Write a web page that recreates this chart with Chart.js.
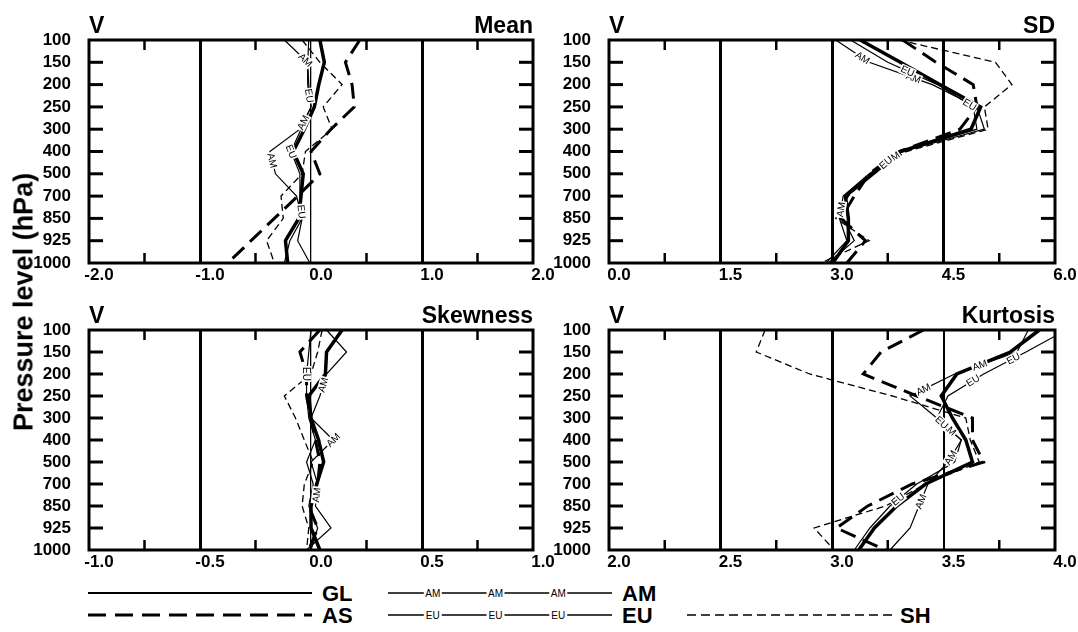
<!DOCTYPE html>
<html>
<head>
<meta charset="utf-8">
<script src="https://cdn.jsdelivr.net/npm/chart.js@4.4.0/dist/chart.umd.min.js"></script>
<style>
  body { margin: 0; background: #fff; width: 1078px; height: 632px; position: relative; overflow: hidden;
         font-family: "Liberation Sans", Arial, sans-serif; }
  canvas { position: absolute; }
  #ylab { position: absolute; left: 24px; top: 302px; transform: translate(-50%, -50%) rotate(-90deg);
          font-weight: bold; font-size: 27px; white-space: nowrap; }
  #legend { position: absolute; left: 0; top: 580px; }
</style>
</head>
<body>
<canvas id="cMean" width="560" height="300" style="left:0;top:0"></canvas>
<canvas id="cSD" width="538" height="300" style="left:540px;top:0"></canvas>
<canvas id="cSkew" width="560" height="290" style="left:0;top:290px"></canvas>
<canvas id="cKurt" width="538" height="290" style="left:540px;top:290px"></canvas>
<div id="ylab">Pressure level (hPa)</div>
<svg id="legend" width="1078" height="52"></svg>

<script>
// pressure levels (hPa), drawn top to bottom
const levels = ['100', '150', '200', '250', '300', '400', '500', '700', '850', '925', '1000'];

// Mean
const meanGL = [0.08, 0.12, 0.07, 0.03, -0.06, -0.16, -0.07, -0.09, -0.11, -0.23, -0.21];
const meanAM = [-0.24, -0.03, -0.02, 0.0, -0.10, -0.37, -0.32, -0.13, -0.08, -0.12, -0.01];
const meanAS = [0.44, 0.31, 0.37, 0.39, 0.18, 0.0, 0.08, -0.12, -0.33, -0.54, -0.75];
const meanEU = [-0.02, -0.03, -0.03, 0.0, -0.09, -0.18, -0.10, -0.10, -0.08, -0.19, -0.24];
const meanSH = [-0.08, 0.08, 0.28, 0.11, 0.19, -0.05, -0.08, -0.27, -0.25, -0.40, -0.33];

// SD
const sdGL = [3.38, 3.92, 4.45, 5.00, 4.87, 3.92, 3.55, 3.18, 3.22, 3.22, 3.01];
const sdAM = [3.05, 3.50, 4.35, 4.95, 5.05, 3.95, 3.50, 3.15, 3.10, 3.20, 2.92];
const sdAS = [3.95, 4.40, 4.90, 4.95, 4.72, 3.90, 3.50, 3.30, 3.12, 3.45, 3.20];
const sdEU = [3.25, 3.75, 4.42, 4.90, 4.95, 3.90, 3.55, 3.20, 3.15, 3.30, 2.95];
const sdSH = [3.90, 5.20, 5.42, 5.05, 5.10, 4.00, 3.52, 3.22, 3.05, 3.50, 2.85];

// Skewness
const skGL = [0.14, 0.07, 0.065, -0.01, 0.0, 0.034, 0.057, 0.026, 0.0, 0.0, 0.04];
const skAM = [0.07, 0.16, 0.07, 0.04, 0.0, 0.10, 0.0, 0.03, 0.02, 0.09, -0.02];
const skAS = [0.04, -0.05, -0.02, -0.02, 0.0, 0.02, 0.04, 0.03, -0.01, 0.03, -0.01];
const skEU = [0.0, -0.01, -0.02, -0.02, -0.01, 0.02, -0.02, 0.01, -0.01, 0.03, 0.0];
const skSH = [0.05, 0.03, 0.0, -0.12, -0.07, -0.03, 0.01, -0.03, -0.04, -0.01, -0.02];

// Kurtosis
const kuGL = [3.93, 3.80, 3.56, 3.49, 3.54, 3.60, 3.63, 3.42, 3.29, 3.19, 3.12];
const kuAM = [3.88, 3.83, 3.55, 3.35, 3.47, 3.58, 3.52, 3.43, 3.39, 3.35, 3.26];
const kuAS = [3.41, 3.22, 3.14, 3.38, 3.63, 3.63, 3.68, 3.36, 3.16, 3.02, 3.24];
const kuEU = [4.05, 3.87, 3.68, 3.52, 3.47, 3.58, 3.55, 3.38, 3.26, 3.17, 3.10];
const kuSH = [2.70, 2.66, 2.90, 3.27, 3.60, 3.62, 3.66, 3.42, 3.24, 2.92, 3.01];

const FONT = '"Liberation Sans", Arial, sans-serif';

// line look of each region
const lineStyle = {
    GL: { borderWidth: 3.5, borderDash: [] },
    AM: { borderWidth: 1.2, borderDash: [] },
    EU: { borderWidth: 1.2, borderDash: [] },
    AS: { borderWidth: 3, borderDash: [16, 8] },
    SH: { borderWidth: 1.3, borderDash: [7, 4] }
};

// frame, inward ticks and panel titles
const panelDeco = {
    id: 'panelDeco',
    afterDraw(chart, args, o) {
        const { ctx, chartArea: a, scales: { x, y } } = chart;
        const seg = (x1, y1, x2, y2) => { ctx.beginPath(); ctx.moveTo(x1, y1); ctx.lineTo(x2, y2); ctx.stroke(); };
        ctx.save();
        ctx.strokeStyle = '#000';
        ctx.lineWidth = 3;
        for (let i = 1; i < levels.length - 1; i++) {
            const py = y.getPixelForValue(i);
            seg(a.left, py, a.left + 14, py);
            seg(a.right - 14, py, a.right, py);
        }
        ctx.lineWidth = 2.5;
        o.minor.forEach(v => {
            const px = x.getPixelForValue(v);
            seg(px, a.top, px, a.top + 10);
            seg(px, a.bottom - 10, px, a.bottom);
        });
        ctx.lineWidth = 3;
        ctx.strokeRect(a.left, a.top, a.width, a.height);
        ctx.fillStyle = '#000';
        ctx.font = 'bold 23px ' + FONT;
        ctx.textBaseline = 'alphabetic';
        ctx.textAlign = 'left';
        ctx.fillText('V', a.left, a.top - 7);
        ctx.textAlign = 'right';
        ctx.fillText(o.title, a.right, a.top - 7);
        ctx.restore();
    }
};

// small "AM" / "EU" tags sitting on the thin lines
const lineTags = {
    id: 'lineTags',
    afterDatasetsDraw(chart) {
        const { ctx, chartArea: a } = chart;
        ctx.save();
        ctx.beginPath();
        ctx.rect(a.left, a.top, a.width, a.height);
        ctx.clip();
        chart.data.datasets.forEach((ds, di) => {
            if (!ds.tagAt) return;
            const pts = chart.getDatasetMeta(di).data;
            ds.tagAt.forEach(pos => {
                let s = Math.floor(pos), t = pos - s;
                if (s >= pts.length - 1) { s = pts.length - 2; t = 1; }
                const p0 = pts[s], p1 = pts[s + 1];
                const mx = p0.x + (p1.x - p0.x) * t, my = p0.y + (p1.y - p0.y) * t;
                let ang = Math.atan2(p1.y - p0.y, p1.x - p0.x);
                if (ang > Math.PI / 2) ang -= Math.PI;
                if (ang < -Math.PI / 2) ang += Math.PI;
                ctx.save();
                ctx.translate(mx, my);
                ctx.rotate(ang);
                ctx.font = '10px ' + FONT;
                const w = ctx.measureText(ds.label).width;
                ctx.fillStyle = '#fff';
                ctx.fillRect(-w / 2 - 1, -5, w + 2, 10);
                ctx.fillStyle = '#000';
                ctx.textAlign = 'center';
                ctx.textBaseline = 'middle';
                ctx.fillText(ds.label, 0, 0.5);
                ctx.restore();
            });
        });
        ctx.restore();
    }
};

function makePanel(canvasId, cfg) {
    const ctx = document.getElementById(canvasId).getContext('2d');
    const names = ['GL', 'AM', 'AS', 'EU', 'SH'];
    const datasets = names.map((n, i) => ({
        label: n,
        data: cfg.series[i],
        borderColor: '#000',
        borderWidth: lineStyle[n].borderWidth,
        borderDash: lineStyle[n].borderDash,
        pointRadius: 0,
        tension: 0,
        fill: false,
        tagAt: cfg.tags[n] || null
    }));
    const tickFont = { family: FONT, weight: 'bold', size: 17 };

    return new Chart(ctx, {
        type: 'line',
        data: { labels: levels, datasets },
        options: {
            responsive: false,
            animation: false,
            indexAxis: 'y',
            layout: { padding: { left: 0, top: 40, right: cfg.padRight, bottom: 0 } },
            plugins: {
                legend: { display: false },
                tooltip: { enabled: false },
                panelDeco: { title: cfg.title, minor: cfg.minor }
            },
            scales: {
                x: {
                    type: 'linear',
                    position: 'bottom',
                    min: cfg.min,
                    max: cfg.max,
                    afterFit: s => { s.height = cfg.xh; },
                    border: { display: false },
                    grid: {
                        drawTicks: false,
                        color: '#000',
                        lineWidth: c => {
                            if (!c.tick) return 0;
                            const w = cfg.gridW[Number(c.tick.value).toFixed(2)];
                            return w || 0;
                        }
                    },
                    ticks: {
                        stepSize: cfg.step,
                        autoSkip: false,
                        maxRotation: 0,
                        padding: 2,
                        labelOffset: 10,
                        color: '#000',
                        font: tickFont,
                        callback: v => Number(v).toFixed(1)
                    }
                },
                y: {
                    type: 'category',
                    position: 'left',
                    afterFit: s => { s.width = cfg.yw; },
                    border: { display: false },
                    grid: { display: false },
                    ticks: { padding: 10, autoSkip: false, color: '#000', font: tickFont }
                }
            }
        },
        plugins: [panelDeco, lineTags]
    });
}

makePanel('cMean', {
    title: 'Mean', min: -2, max: 2, step: 1, minor: [-1.5, -0.5, 0.5, 1.5],
    gridW: { '-1.00': 3, '0.00': 1.3, '1.00': 3 },
    series: [meanGL, meanAM, meanAS, meanEU, meanSH],
    tags: { AM: [0.9, 3.7, 5.4], EU: [2.5, 5.0, 7.7] },
    yw: 89, padRight: 27, xh: 37
});
makePanel('cSD', {
    title: 'SD', min: 0, max: 6, step: 1.5, minor: [0.75, 2.25, 3.75, 5.25],
    gridW: { '1.50': 3, '3.00': 3, '4.50': 3 },
    series: [sdGL, sdAM, sdAS, sdEU, sdSH],
    tags: { AM: [0.8, 1.7, 5.3, 7.6], EU: [1.4, 2.9, 5.5] },
    yw: 69, padRight: 23, xh: 37
});
makePanel('cSkew', {
    title: 'Skewness', min: -1, max: 1, step: 0.5, minor: [-0.75, -0.25, 0.25, 0.75],
    gridW: { '-0.50': 3, '0.00': 1.3, '0.50': 3 },
    series: [skGL, skAM, skAS, skEU, skSH],
    tags: { AM: [2.5, 5.0, 7.5], EU: [2.0] },
    yw: 89, padRight: 27, xh: 30
});
makePanel('cKurt', {
    title: 'Kurtosis', min: 2, max: 4, step: 0.5, minor: [2.25, 2.75, 3.25, 3.75],
    gridW: { '2.50': 3, '3.00': 3, '3.50': 2 },
    series: [kuGL, kuAM, kuAS, kuEU, kuSH],
    tags: { AM: [1.6, 2.7, 4.5, 5.8, 7.8], EU: [1.3, 2.3, 4.2, 7.7] },
    yw: 69, padRight: 23, xh: 30
});

// legend below the panels
const legendItems = [
    { name: 'GL', x: 88, row: 0, len: 224, width: 2, dash: '', tag: '' },
    { name: 'AM', x: 388, row: 0, len: 224, width: 1.3, dash: '', tag: 'AM' },
    { name: 'AS', x: 88, row: 1, len: 224, width: 3, dash: '18 9', tag: '' },
    { name: 'EU', x: 388, row: 1, len: 224, width: 1.3, dash: '', tag: 'EU' },
    { name: 'SH', x: 687, row: 1, len: 206, width: 1.3, dash: '9 5', tag: '' }
];
(function drawLegend() {
    const svg = document.getElementById('legend');
    const NS = 'http://www.w3.org/2000/svg';
    const el = (tag, attrs, text) => {
        const e = document.createElementNS(NS, tag);
        Object.keys(attrs).forEach(k => e.setAttribute(k, attrs[k]));
        if (text) e.textContent = text;
        svg.appendChild(e);
        return e;
    };
    legendItems.forEach(it => {
        const y = it.row === 0 ? 13 : 35;
        el('line', { x1: it.x, y1: y, x2: it.x + it.len, y2: y, stroke: '#000',
                     'stroke-width': it.width, 'stroke-dasharray': it.dash || 'none' });
        if (it.tag) {
            [0.2, 0.48, 0.76].forEach(f => {
                const cx = it.x + it.len * f;
                el('rect', { x: cx - 9, y: y - 5, width: 18, height: 10, fill: '#fff' });
                el('text', { x: cx, y: y + 3.5, 'font-size': 10, 'text-anchor': 'middle',
                             'font-family': 'Liberation Sans, Arial, sans-serif' }, it.tag);
            });
        }
        el('text', { x: it.x + it.len + (it.name === 'SH' ? 7 : 10), y: y + 8, 'font-size': 22,
                     'font-weight': 'bold', 'font-family': 'Liberation Sans, Arial, sans-serif' }, it.name);
    });
})();
</script>
</body>
</html>
